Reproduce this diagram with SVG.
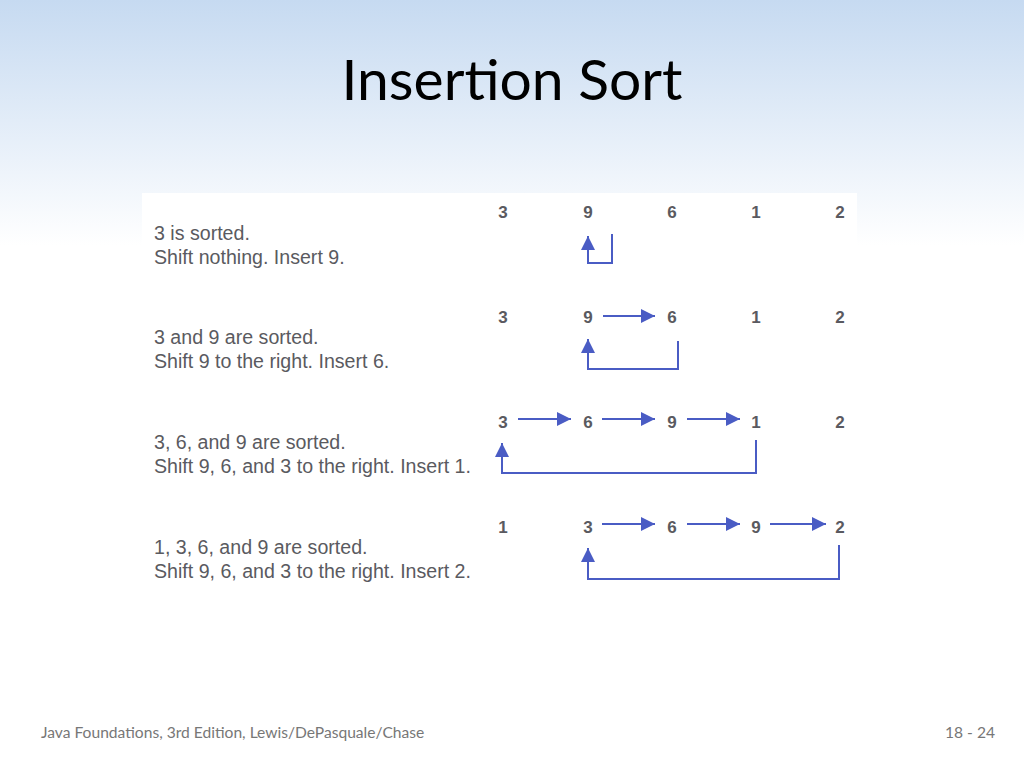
<svg xmlns="http://www.w3.org/2000/svg" width="1024" height="768" viewBox="0 0 1024 768">
<defs>
<linearGradient id="bg" x1="0" y1="0" x2="0" y2="1">
<stop offset="0" stop-color="#c6daf1"/>
<stop offset="0.32" stop-color="#ffffff"/>
<stop offset="1" stop-color="#ffffff"/>
</linearGradient>
<marker id="ah" markerUnits="userSpaceOnUse" markerWidth="16" markerHeight="14" refX="14" refY="7" orient="auto">
<path d="M0,0 L14,7 L0,14 Z" fill="#4a5cc4"/>
</marker>
<style>
.title{font-family:Lato,"Open Sans",sans-serif;font-size:57px;fill:#000}
.foot{font-family:Lato,"Open Sans",sans-serif;font-size:15.6px;fill:#777}
.desc{font-family:"Liberation Sans",Arial,sans-serif;font-size:19.6px;fill:#5a5a60}
.num{font-family:"Liberation Sans",Arial,sans-serif;font-size:17px;font-weight:bold;fill:#5a5a60;text-anchor:middle}
.c{fill:none;stroke:#4a5cc4;stroke-width:2}
</style>
</defs>
<rect width="1024" height="768" fill="url(#bg)"/>
<rect x="142" y="193" width="715" height="410" fill="#ffffff"/>
<text class="title" x="512" y="100" text-anchor="middle">Insertion Sort</text>

<g id="row1">
<text class="desc" x="154" y="240">3 is sorted.</text>
<text class="desc" x="154" y="264">Shift nothing. Insert 9.</text>
<text class="num" x="503" y="218">3</text>
<text class="num" x="588" y="218">9</text>
<text class="num" x="672" y="218">6</text>
<text class="num" x="756" y="218">1</text>
<text class="num" x="840" y="218">2</text>
</g>
<g id="row2">
<text class="desc" x="154" y="344">3 and 9 are sorted.</text>
<text class="desc" x="154" y="368">Shift 9 to the right. Insert 6.</text>
<text class="num" x="503" y="323">3</text>
<text class="num" x="588" y="323">9</text>
<text class="num" x="672" y="323">6</text>
<text class="num" x="756" y="323">1</text>
<text class="num" x="840" y="323">2</text>
</g>
<g id="row3">
<text class="desc" x="154" y="449">3, 6, and 9 are sorted.</text>
<text class="desc" x="154" y="473">Shift 9, 6, and 3 to the right. Insert 1.</text>
<text class="num" x="503" y="428">3</text>
<text class="num" x="588" y="428">6</text>
<text class="num" x="672" y="428">9</text>
<text class="num" x="756" y="428">1</text>
<text class="num" x="840" y="428">2</text>
</g>
<g id="row4">
<text class="desc" x="154" y="554">1, 3, 6, and 9 are sorted.</text>
<text class="desc" x="154" y="578">Shift 9, 6, and 3 to the right. Insert 2.</text>
<text class="num" x="503" y="533">1</text>
<text class="num" x="588" y="533">3</text>
<text class="num" x="672" y="533">6</text>
<text class="num" x="756" y="533">9</text>
<text class="num" x="840" y="533">2</text>
</g>

<g id="connectors">
<path class="c" d="M612,234 V263 H588 V236" marker-end="url(#ah)"/>
<path class="c" d="M603,316 H655" marker-end="url(#ah)"/>
<path class="c" d="M678,341 V369 H588 V339" marker-end="url(#ah)"/>
<path class="c" d="M518,419 H571" marker-end="url(#ah)"/>
<path class="c" d="M602,419 H655" marker-end="url(#ah)"/>
<path class="c" d="M687,419 H740" marker-end="url(#ah)"/>
<path class="c" d="M756,440 V473 H502 V443" marker-end="url(#ah)"/>
<path class="c" d="M602,524 H655" marker-end="url(#ah)"/>
<path class="c" d="M687,524 H740" marker-end="url(#ah)"/>
<path class="c" d="M770,524 H826" marker-end="url(#ah)"/>
<path class="c" d="M839,545 V579 H588 V548" marker-end="url(#ah)"/>
</g>

<text class="foot" x="41" y="738">Java Foundations, 3rd Edition, Lewis/DePasquale/Chase</text>
<text class="foot" x="995" y="738" text-anchor="end">18 - 24</text>
</svg>
